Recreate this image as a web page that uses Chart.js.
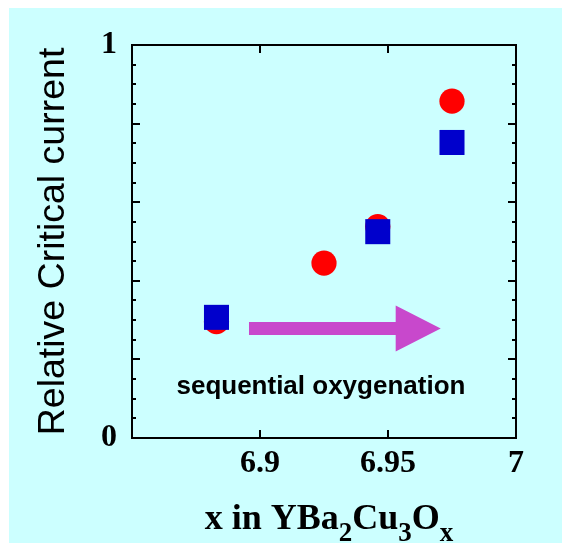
<!DOCTYPE html>
<html>
<head>
<meta charset="utf-8">
<script src="https://cdn.jsdelivr.net/npm/chart.js@4.4.1/dist/chart.umd.min.js"></script>
<style>
    html, body { margin: 0; padding: 0; background: #ffffff; }
    #wrap { position: absolute; left: 9px; top: 8px; width: 553px; height: 535px; background: #ccffff; }
    canvas { display: block; }
</style>
</head>
<body>
<div id="wrap"><canvas id="jc-chart" width="553" height="535"></canvas></div>
<script>
/* globals Chart */
const oxygenContent = [6.883, 6.925, 6.946, 6.975];
const currentCircles = [0.296, 0.445, 0.538, 0.857];
const squareContent = [6.883, 6.946, 6.975];
const currentSquares = [0.307, 0.525, 0.752];

const xTickValues = [6.9, 6.95, 7];
const yTickValues = [0, 1];

// arrow and caption, in data units
const arrowStart = 6.8957;
const arrowHeadBase = 6.953;
const arrowEnd = 6.9706;
const arrowLevel = 0.2786;
const captionText = 'sequential oxygenation';
const captionX = 6.9238;
const captionY = 0.13;

// box around the plot with inward ticks on all four sides
const framePlugin = {
    id: 'frame',
    afterDraw(chart) {
        const { ctx, chartArea: a, scales } = chart;
        ctx.save();
        ctx.strokeStyle = '#000000';
        ctx.lineWidth = 2;
        ctx.strokeRect(a.left, a.top, a.right - a.left, a.bottom - a.top);

        ctx.beginPath();
        for (let i = 0; i <= 20; i++) {
            const y = Math.round(scales.y.getPixelForValue(i * 0.05));
            const len = i % 4 === 0 ? 8 : 4;
            ctx.moveTo(a.left, y); ctx.lineTo(a.left + len, y);
            ctx.moveTo(a.right, y); ctx.lineTo(a.right - len, y);
        }
        [6.9, 6.95].forEach((v) => {
            const x = Math.round(scales.x.getPixelForValue(v));
            ctx.moveTo(x, a.bottom); ctx.lineTo(x, a.bottom - 8);
            ctx.moveTo(x, a.top); ctx.lineTo(x, a.top + 8);
        });
        ctx.stroke();
        ctx.restore();
    },
};

const arrowPlugin = {
    id: 'arrow',
    afterDatasetsDraw(chart) {
        const { ctx, scales } = chart;
        const x0 = scales.x.getPixelForValue(arrowStart);
        const xb = scales.x.getPixelForValue(arrowHeadBase);
        const x1 = scales.x.getPixelForValue(arrowEnd);
        const y = scales.y.getPixelForValue(arrowLevel);
        ctx.save();
        ctx.fillStyle = '#c848cc';
        ctx.beginPath();
        ctx.moveTo(x0, y - 6.5);
        ctx.lineTo(xb, y - 6.5);
        ctx.lineTo(xb, y - 23);
        ctx.lineTo(x1, y);
        ctx.lineTo(xb, y + 23);
        ctx.lineTo(xb, y + 6.5);
        ctx.lineTo(x0, y + 6.5);
        ctx.closePath();
        ctx.fill();

        ctx.fillStyle = '#000000';
        ctx.font = 'bold 26px "Liberation Sans", Arial, sans-serif';
        ctx.textAlign = 'center';
        ctx.textBaseline = 'middle';
        ctx.fillText(captionText, scales.x.getPixelForValue(captionX), scales.y.getPixelForValue(captionY));
        ctx.restore();
    },
};

// x axis title with chemical subscripts
const xTitlePlugin = {
    id: 'xTitle',
    afterDraw(chart) {
        const { ctx, chartArea: a } = chart;
        const parts = [
            ['x in YBa', false], ['2', true], ['Cu', false], ['3', true], ['O', false], ['x', true],
        ];
        const mainFont = 'bold 36px "Liberation Serif", "Times New Roman", serif';
        const subFont = 'bold 27px "Liberation Serif", "Times New Roman", serif';
        ctx.save();
        ctx.fillStyle = '#000000';
        ctx.textBaseline = 'alphabetic';
        ctx.textAlign = 'left';
        let total = 0;
        parts.forEach(([t, sub]) => { ctx.font = sub ? subFont : mainFont; total += ctx.measureText(t).width; });
        let x = (a.left + a.right) / 2 + 5 - total / 2;
        const base = a.bottom + 91;
        parts.forEach(([t, sub]) => {
            ctx.font = sub ? subFont : mainFont;
            ctx.fillText(t, x, sub ? base + 12 : base);
            x += ctx.measureText(t).width;
        });
        ctx.restore();
    },
};

(function () {
    main();

    function main() {
        const ctx = document.getElementById('jc-chart');
        new Chart(ctx, {
            type: 'scatter',
            data: {
                datasets: [
                    {
                        label: 'squares',
                        data: squareContent.map((x, i) => ({ x: x, y: currentSquares[i] })),
                        pointStyle: 'rect',
                        pointRadius: 17.7,
                        pointHoverRadius: 17.7,
                        backgroundColor: '#0000cc',
                        borderWidth: 0,
                        order: 1,
                    },
                    {
                        label: 'circles',
                        data: oxygenContent.map((x, i) => ({ x: x, y: currentCircles[i] })),
                        pointStyle: 'circle',
                        pointRadius: 12.6,
                        pointHoverRadius: 12.6,
                        backgroundColor: '#ff0000',
                        borderWidth: 0,
                        order: 2,
                    },
                ],
            },
            options: {
                responsive: false,
                animation: false,
                events: [],
                layout: { padding: { left: 0, top: 37, right: 46, bottom: 0 } },
                plugins: {
                    legend: { display: false },
                    tooltip: { enabled: false },
                },
                scales: {
                    x: {
                        type: 'linear',
                        min: 6.85,
                        max: 7,
                        grid: { display: false, drawTicks: false },
                        border: { display: false },
                        afterBuildTicks: (scale) => { scale.ticks = xTickValues.map((v) => ({ value: v })); },
                        afterFit: (scale) => { scale.height = 105; },
                        ticks: {
                            padding: 7,
                            color: '#000000',
                            font: { family: '"Liberation Serif", "Times New Roman", serif', size: 32, weight: 'bold' },
                            callback: (v) => String(v),
                        },
                        title: { display: false },
                    },
                    y: {
                        type: 'linear',
                        min: 0,
                        max: 1,
                        grid: { display: false, drawTicks: false },
                        border: { display: false },
                        afterBuildTicks: (scale) => { scale.ticks = yTickValues.map((v) => ({ value: v })); },
                        afterFit: (scale) => { scale.width = 123; },
                        ticks: {
                            padding: 15,
                            color: '#000000',
                            font: { family: '"Liberation Serif", "Times New Roman", serif', size: 32, weight: 'bold' },
                            callback: (v) => String(v),
                        },
                        title: {
                            display: true,
                            text: 'Relative Critical current',
                            color: '#000000',
                            font: { family: '"Liberation Sans", Arial, sans-serif', size: 37.5, lineHeight: 1.2 },
                            padding: { top: 22, bottom: 0 },
                        },
                    },
                },
            },
            plugins: [framePlugin, arrowPlugin, xTitlePlugin],
        });
    }
})();
</script>
</body>
</html>
